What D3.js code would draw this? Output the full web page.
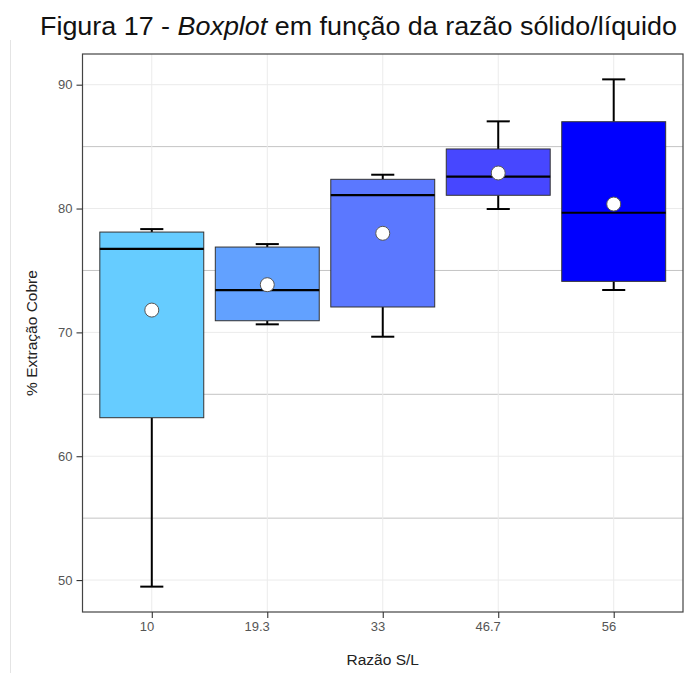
<!DOCTYPE html>
<html>
<head>
<meta charset="utf-8">
<script src="https://cdn.jsdelivr.net/npm/d3@7"></script>
<style>
  html, body { margin: 0; padding: 0; background: #fff; }
  svg { display: block; font-family: "Liberation Sans", Arial, sans-serif; }
</style>
</head>
<body>
<svg id="chart" width="688" height="673"></svg>
<script>
// ---- data ----
const categories   = ["10", "19.3", "33", "46.7", "56"];
const whiskerLow   = [49.47, 70.65, 69.65, 79.96, 73.42];
const q1           = [63.11, 70.94, 72.05, 81.07, 74.12];
const median       = [76.75, 73.42, 81.09, 82.57, 79.66];
const q3           = [78.10, 76.89, 82.36, 84.81, 87.01];
const whiskerHigh  = [78.34, 77.13, 82.73, 87.04, 90.43];
const means        = [71.80, 73.85, 78.00, 82.87, 80.36];
const fillColors   = ["#66CCFF", "#62A1FF", "#5B78FF", "#4747FF", "#0000FF"];
const yTicks       = [50, 60, 70, 80, 90];
const yMinorTicks  = [55, 65, 75, 85];
const titleMain    = "Figura 17 - ";
const titleItalic  = "Boxplot";
const titleRest    = " em função da razão sólido/líquido";
const xTitle       = "Razão S/L";
const yTitle       = "% Extração Cobre";

// ---- layout ----
const panel = { left: 82.5, right: 683, top: 54, bottom: 612 };
const svg = d3.select("#chart");

const x = d3.scalePoint().domain(categories).range([panel.left, panel.right]).padding(0.6);
const step = x.step();
const boxW = step * 0.9;
const capW = step * 0.2;

const yMin = d3.min(whiskerLow), yMax = d3.max(whiskerHigh);
const yr = yMax - yMin;
const y = d3.scaleLinear().domain([yMin - 0.05 * yr, yMax + 0.05 * yr]).range([panel.bottom, panel.top]);

// outer faint image border line
svg.append("line").attr("x1", 10.5).attr("x2", 10.5).attr("y1", 40).attr("y2", 673)
  .attr("stroke", "#e4e4e4").attr("stroke-width", 1);

// title
const title = svg.append("text").attr("x", 40).attr("y", 35).attr("text-anchor", "start")
  .attr("font-size", 25).attr("fill", "#111")
  .attr("textLength", 637).attr("lengthAdjust", "spacingAndGlyphs");
title.append("tspan").text(titleMain);
title.append("tspan").attr("font-style", "italic").text(titleItalic);
title.append("tspan").text(titleRest);

// grid
const g = svg.append("g");
g.selectAll(".ymaj").data(yTicks).join("line")
  .attr("x1", panel.left).attr("x2", panel.right)
  .attr("y1", d => y(d)).attr("y2", d => y(d))
  .attr("stroke", "#ebebeb").attr("stroke-width", 1);
g.selectAll(".ymin").data(yMinorTicks).join("line")
  .attr("x1", panel.left).attr("x2", panel.right)
  .attr("y1", d => y(d)).attr("y2", d => y(d))
  .attr("stroke", "#c4c4c4").attr("stroke-width", 1);
g.selectAll(".xg").data(categories).join("line")
  .attr("x1", d => x(d)).attr("x2", d => x(d))
  .attr("y1", panel.top).attr("y2", panel.bottom)
  .attr("stroke", "#ebebeb").attr("stroke-width", 1);

// boxes
const idx = d3.range(categories.length);
const bg = svg.append("g");
// whiskers
bg.selectAll(".wu").data(idx).join("line")
  .attr("x1", i => x(categories[i])).attr("x2", i => x(categories[i]))
  .attr("y1", i => y(q3[i])).attr("y2", i => y(whiskerHigh[i]))
  .attr("stroke", "#000").attr("stroke-width", 2);
bg.selectAll(".wl").data(idx).join("line")
  .attr("x1", i => x(categories[i])).attr("x2", i => x(categories[i]))
  .attr("y1", i => y(q1[i])).attr("y2", i => y(whiskerLow[i]))
  .attr("stroke", "#000").attr("stroke-width", 2);
bg.selectAll(".cu").data(idx).join("line")
  .attr("x1", i => x(categories[i]) - capW / 2).attr("x2", i => x(categories[i]) + capW / 2)
  .attr("y1", i => y(whiskerHigh[i])).attr("y2", i => y(whiskerHigh[i]))
  .attr("stroke", "#000").attr("stroke-width", 2);
bg.selectAll(".cl").data(idx).join("line")
  .attr("x1", i => x(categories[i]) - capW / 2).attr("x2", i => x(categories[i]) + capW / 2)
  .attr("y1", i => y(whiskerLow[i])).attr("y2", i => y(whiskerLow[i]))
  .attr("stroke", "#000").attr("stroke-width", 2);
// box rects
bg.selectAll(".box").data(idx).join("rect")
  .attr("x", i => x(categories[i]) - boxW / 2).attr("width", boxW)
  .attr("y", i => y(q3[i])).attr("height", i => y(q1[i]) - y(q3[i]))
  .attr("fill", i => fillColors[i]).attr("stroke", "#333").attr("stroke-width", 1);
// medians
bg.selectAll(".med").data(idx).join("line")
  .attr("x1", i => x(categories[i]) - boxW / 2).attr("x2", i => x(categories[i]) + boxW / 2)
  .attr("y1", i => y(median[i])).attr("y2", i => y(median[i]))
  .attr("stroke", "#000").attr("stroke-width", 2.2);
// means
bg.selectAll(".mean").data(idx).join("circle")
  .attr("cx", i => x(categories[i])).attr("cy", i => y(means[i])).attr("r", 7)
  .attr("fill", "#fff").attr("stroke", "#555").attr("stroke-width", 1);

// panel border
svg.append("rect").attr("x", panel.left).attr("y", panel.top)
  .attr("width", panel.right - panel.left).attr("height", panel.bottom - panel.top)
  .attr("fill", "none").attr("stroke", "#444").attr("stroke-width", 1.2);

// y axis
const yAxis = d3.axisLeft(y).tickValues(yTicks).tickSize(6).tickPadding(4).tickFormat(d3.format("d"));
const ya = svg.append("g").attr("transform", `translate(${panel.left},0)`).call(yAxis);
ya.select(".domain").remove();
ya.selectAll(".tick line").attr("stroke", "#333").attr("stroke-width", 1.1);
ya.selectAll(".tick text").attr("fill", "#555").attr("font-size", 13)
  .attr("font-family", "Liberation Sans, Arial, sans-serif");

// x axis
const xAxis = d3.axisBottom(x).tickSize(6).tickPadding(4);
const xa = svg.append("g").attr("transform", `translate(0,${panel.bottom})`).call(xAxis);
xa.select(".domain").remove();
xa.selectAll(".tick line").attr("stroke", "#333").attr("stroke-width", 1.1);
xa.selectAll(".tick text").attr("fill", "#555").attr("font-size", 13)
  .attr("text-anchor", "end").attr("dx", 2)
  .attr("font-family", "Liberation Sans, Arial, sans-serif");

// axis titles
svg.append("text").attr("x", (panel.left + panel.right) / 2).attr("y", 665)
  .attr("text-anchor", "middle").attr("font-size", 15.5).attr("fill", "#222").text(xTitle);
svg.append("text").attr("transform", `translate(37,${(panel.top + panel.bottom) / 2}) rotate(-90)`)
  .attr("text-anchor", "middle").attr("font-size", 15.5).attr("fill", "#222").text(yTitle);
</script>
</body>
</html>
